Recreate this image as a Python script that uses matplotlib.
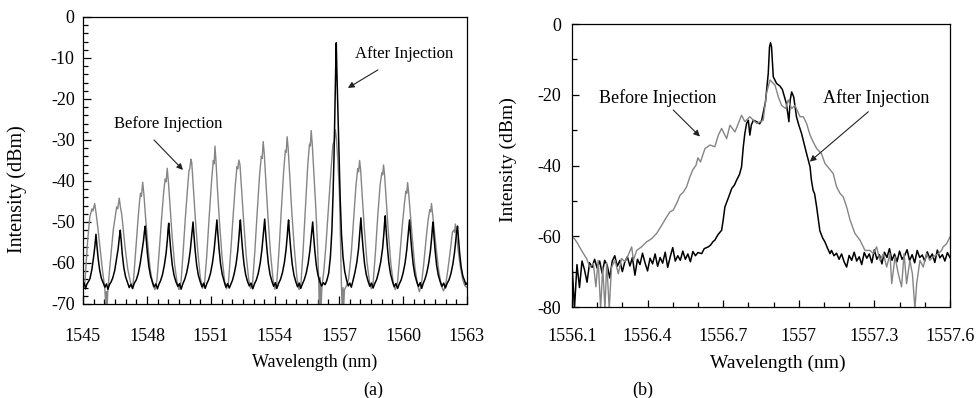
import numpy as np
import matplotlib.pyplot as plt
from matplotlib.ticker import MultipleLocator, FuncFormatter

plt.rcParams['font.family'] = ['Liberation Serif', 'DejaVu Serif']
plt.rcParams['axes.unicode_minus'] = False

GRAY = '#858585'

# (a) wide span, wavelength (nm) / intensity (dBm)
before_a = [
    (1545.00, -64.8), (1545.08, -65.6), (1545.14, -61.0), (1545.22, -54.5), (1545.32, -48.8),
    (1545.42, -46.8), (1545.47, -47.3), (1545.55, -45.5), (1545.62, -48.0), (1545.70, -51.5),
    (1545.80, -56.3), (1545.92, -62.0), (1546.02, -66.0), (1546.07, -70.5), (1546.10, -67.0),
    (1546.13, -70.5), (1546.17, -66.5),
    (1546.25, -61.5), (1546.42, -52.0), (1546.52, -48.5), (1546.58, -46.3), (1546.63, -46.8),
    (1546.70, -44.2), (1546.76, -46.5), (1546.82, -48.2), (1546.97, -56.0), (1547.10, -61.5),
    (1547.22, -64.5), (1547.32, -66.3),
    (1547.38, -63.5), (1547.48, -56.5), (1547.58, -49.5), (1547.66, -44.5), (1547.70, -43.0),
    (1547.74, -43.8), (1547.80, -40.3), (1547.86, -43.5), (1547.93, -48.5), (1548.03, -55.0),
    (1548.15, -61.5), (1548.28, -65.5), (1548.38, -66.5),
    (1548.47, -64.0), (1548.57, -57.5), (1548.68, -49.5), (1548.78, -43.0), (1548.85, -39.5),
    (1548.90, -40.2), (1548.95, -36.9), (1549.01, -40.5), (1549.08, -46.0), (1549.18, -53.5),
    (1549.30, -60.5), (1549.42, -65.0), (1549.50, -66.5),
    (1549.60, -64.5), (1549.70, -57.0), (1549.80, -49.0), (1549.90, -42.0), (1549.97, -37.5),
    (1550.01, -37.0), (1550.06, -34.7), (1550.10, -35.5), (1550.16, -40.5), (1550.26, -48.5),
    (1550.38, -57.0), (1550.50, -63.5), (1550.60, -66.2),
    (1550.70, -65.0), (1550.80, -58.5), (1550.92, -48.5), (1551.03, -40.0), (1551.11, -35.0),
    (1551.15, -35.8), (1551.19, -31.5), (1551.24, -35.5), (1551.30, -41.5), (1551.40, -50.0),
    (1551.52, -58.5), (1551.64, -64.5), (1551.73, -66.3),
    (1551.82, -64.8), (1551.93, -57.0), (1552.04, -48.5), (1552.15, -40.5), (1552.22, -36.5),
    (1552.26, -37.0), (1552.31, -34.9), (1552.36, -36.0), (1552.43, -41.5), (1552.53, -49.5),
    (1552.65, -58.0), (1552.77, -64.0), (1552.86, -66.2),
    (1552.95, -65.0), (1553.06, -57.0), (1553.17, -47.5), (1553.28, -38.5), (1553.36, -34.0),
    (1553.40, -34.5), (1553.45, -30.4), (1553.50, -33.5), (1553.57, -39.5), (1553.67, -48.5),
    (1553.79, -57.5), (1553.91, -64.0), (1554.00, -66.4),
    (1554.08, -65.2), (1554.19, -57.0), (1554.30, -47.0), (1554.41, -37.5), (1554.49, -32.5),
    (1554.53, -33.0), (1554.57, -29.2), (1554.62, -32.0), (1554.69, -38.5), (1554.79, -47.5),
    (1554.91, -56.5), (1555.03, -63.5), (1555.13, -66.5),
    (1555.22, -65.0), (1555.32, -57.0), (1555.43, -46.5), (1555.54, -36.0), (1555.62, -31.0),
    (1555.66, -31.5), (1555.70, -27.7), (1555.75, -31.0), (1555.82, -37.5), (1555.92, -47.0),
    (1556.00, -56.0), (1556.05, -64.0), (1556.08, -71.0), (1556.12, -63.5), (1556.16, -71.0),
    (1556.20, -66.0), (1556.30, -61.5), (1556.40, -55.0), (1556.50, -47.0), (1556.58, -41.0),
    (1556.66, -35.0), (1556.72, -31.0), (1556.78, -30.5), (1556.83, -27.5), (1556.88, -29.5),
    (1556.95, -35.0), (1557.03, -44.0), (1557.08, -56.0), (1557.12, -66.0), (1557.15, -71.0),
    (1557.19, -66.0), (1557.22, -71.0), (1557.26, -66.5), (1557.36, -65.5),
    (1557.45, -64.0), (1557.58, -57.5), (1557.70, -48.5), (1557.80, -41.0), (1557.88, -37.0),
    (1557.92, -37.8), (1557.97, -35.0), (1558.02, -37.5), (1558.09, -43.5), (1558.19, -51.5),
    (1558.31, -59.5), (1558.43, -64.5), (1558.52, -66.3),
    (1558.60, -65.0), (1558.71, -57.5), (1558.82, -48.5), (1558.93, -41.0), (1559.01, -38.0),
    (1559.05, -38.5), (1559.09, -36.1), (1559.14, -38.5), (1559.21, -44.0), (1559.31, -52.0),
    (1559.43, -60.0), (1559.55, -65.0), (1559.64, -66.5),
    (1559.74, -65.0), (1559.85, -58.5), (1559.96, -51.5), (1560.07, -45.5), (1560.14, -42.5),
    (1560.18, -43.0), (1560.22, -40.4), (1560.27, -43.0), (1560.34, -47.5), (1560.44, -54.0),
    (1560.56, -61.0), (1560.68, -65.2), (1560.77, -67.0),
    (1560.86, -65.5), (1560.97, -60.5), (1561.08, -54.5), (1561.18, -49.5), (1561.26, -47.0),
    (1561.30, -47.5), (1561.34, -45.5), (1561.39, -48.0), (1561.46, -51.5), (1561.56, -56.5),
    (1561.68, -62.0), (1561.80, -65.5), (1561.90, -66.8),
    (1562.00, -65.5), (1562.11, -61.5), (1562.22, -57.0), (1562.32, -52.5), (1562.38, -52.0),
    (1562.42, -52.5), (1562.46, -50.5), (1562.51, -53.0), (1562.58, -56.5), (1562.68, -60.5),
    (1562.80, -64.0), (1562.90, -65.5), (1563.00, -66.0),
]

after_a = [
    (1545.00, -65.8), (1545.06, -64.9), (1545.12, -66.3), (1545.18, -65.2), (1545.25, -64.6),
    (1545.33, -63.8), (1545.42, -61.5), (1545.50, -58.5), (1545.56, -55.8), (1545.61, -53.0),
    (1545.65, -55.5), (1545.71, -58.8), (1545.78, -61.6), (1545.86, -63.7), (1545.95, -64.9),
    (1546.03, -65.9), (1546.10, -65.1), (1546.17, -66.4),
    (1546.24, -65.3), (1546.32, -64.6), (1546.40, -63.6), (1546.49, -61.8), (1546.57, -59.2),
    (1546.65, -56.5), (1546.71, -53.6), (1546.75, -52.0), (1546.79, -54.6), (1546.85, -58.2),
    (1546.92, -61.3), (1547.00, -63.4), (1547.09, -64.8), (1547.17, -66.0), (1547.25, -65.2),
    (1547.33, -66.2),
    (1547.40, -65.0), (1547.50, -64.1), (1547.59, -62.6), (1547.68, -60.2), (1547.76, -57.3),
    (1547.84, -54.5), (1547.88, -52.4), (1547.92, -51.0), (1547.96, -53.8), (1548.02, -57.6),
    (1548.09, -60.9), (1548.17, -63.2), (1548.26, -64.7), (1548.34, -65.8), (1548.42, -65.1),
    (1548.49, -66.3),
    (1548.56, -65.2), (1548.64, -64.3), (1548.73, -62.8), (1548.82, -60.4), (1548.90, -57.5),
    (1548.96, -54.2), (1548.99, -51.8), (1549.02, -50.3), (1549.06, -53.3), (1549.12, -57.1),
    (1549.19, -60.6), (1549.27, -63.0), (1549.36, -64.6), (1549.45, -65.7), (1549.53, -65.0),
    (1549.60, -66.4),
    (1549.68, -65.1), (1549.77, -64.0), (1549.86, -62.4), (1549.95, -60.0), (1550.03, -57.0),
    (1550.09, -53.8), (1550.13, -51.5), (1550.16, -50.0), (1550.20, -53.0), (1550.26, -56.9),
    (1550.33, -60.5), (1550.41, -63.0), (1550.50, -64.6), (1550.58, -65.8), (1550.66, -64.9),
    (1550.73, -66.2),
    (1550.81, -65.0), (1550.89, -64.1), (1550.98, -62.5), (1551.07, -60.0), (1551.15, -56.8),
    (1551.21, -53.4), (1551.25, -51.0), (1551.28, -49.5), (1551.32, -52.6), (1551.38, -56.5),
    (1551.45, -60.2), (1551.53, -62.8), (1551.62, -64.5), (1551.70, -65.9), (1551.78, -65.0),
    (1551.86, -66.1),
    (1551.93, -65.2), (1552.01, -64.2), (1552.09, -62.6), (1552.18, -60.2), (1552.26, -56.9),
    (1552.32, -53.3), (1552.35, -51.0), (1552.38, -49.5), (1552.42, -52.7), (1552.48, -56.6),
    (1552.55, -60.3), (1552.63, -62.9), (1552.72, -64.6), (1552.80, -65.6), (1552.88, -64.9),
    (1552.96, -66.3),
    (1553.04, -65.1), (1553.13, -64.1), (1553.22, -62.5), (1553.31, -60.0), (1553.39, -56.7),
    (1553.45, -53.2), (1553.49, -50.9), (1553.52, -49.3), (1553.56, -52.5), (1553.62, -56.4),
    (1553.69, -60.1), (1553.77, -62.8), (1553.86, -64.5), (1553.94, -65.7), (1554.02, -64.8),
    (1554.09, -66.2),
    (1554.17, -65.0), (1554.26, -64.0), (1554.35, -62.4), (1554.44, -60.0), (1554.52, -56.8),
    (1554.58, -53.3), (1554.61, -51.0), (1554.64, -49.5), (1554.68, -52.7), (1554.74, -56.6),
    (1554.81, -60.3), (1554.89, -62.9), (1554.98, -64.6), (1555.06, -65.8), (1555.14, -64.9),
    (1555.21, -66.2),
    (1555.29, -65.1), (1555.38, -64.0), (1555.47, -62.4), (1555.56, -60.0), (1555.64, -56.9),
    (1555.70, -53.6), (1555.74, -51.4), (1555.77, -50.0), (1555.81, -53.1), (1555.87, -57.0),
    (1555.94, -60.6), (1556.02, -63.0), (1556.11, -64.6), (1556.19, -65.6), (1556.27, -64.8),
    (1556.35, -65.3),
    (1556.43, -64.3), (1556.52, -62.5), (1556.60, -58.5), (1556.67, -52.0), (1556.72, -44.0),
    (1556.77, -34.0), (1556.81, -22.5), (1556.85, -12.0), (1556.875, -6.3), (1556.90, -12.5),
    (1556.93, -18.6), (1556.97, -27.0), (1557.01, -35.5), (1557.06, -44.5), (1557.12, -53.0),
    (1557.19, -58.5), (1557.27, -62.0), (1557.36, -64.2), (1557.44, -65.6), (1557.51, -64.9),
    (1557.58, -65.9), (1557.66, -64.3), (1557.75, -62.3), (1557.84, -59.8), (1557.92, -56.5),
    (1557.97, -53.0), (1558.00, -50.6), (1558.03, -49.0), (1558.07, -52.3), (1558.13, -56.3),
    (1558.20, -60.1), (1558.28, -62.8), (1558.37, -64.5), (1558.45, -65.7), (1558.53, -64.9),
    (1558.60, -66.1),
    (1558.68, -65.0), (1558.77, -64.0), (1558.86, -62.2), (1558.96, -59.7), (1559.05, -56.3),
    (1559.11, -52.6), (1559.14, -50.2), (1559.17, -48.5), (1559.21, -51.9), (1559.27, -56.1),
    (1559.34, -60.0), (1559.42, -62.7), (1559.51, -64.5), (1559.59, -65.8), (1559.67, -65.0),
    (1559.75, -66.2),
    (1559.83, -65.1), (1559.92, -64.1), (1560.01, -62.4), (1560.10, -60.0), (1560.18, -56.8),
    (1560.24, -53.3), (1560.28, -51.0), (1560.31, -49.5), (1560.35, -52.7), (1560.41, -56.6),
    (1560.48, -60.3), (1560.56, -62.9), (1560.65, -64.6), (1560.73, -65.7), (1560.81, -64.8),
    (1560.88, -66.2),
    (1560.95, -65.0), (1561.03, -64.0), (1561.12, -62.4), (1561.21, -60.0), (1561.29, -57.0),
    (1561.35, -53.7), (1561.38, -51.5), (1561.41, -50.0), (1561.45, -53.1), (1561.51, -57.0),
    (1561.58, -60.6), (1561.66, -63.0), (1561.75, -64.6), (1561.83, -65.7), (1561.91, -64.9),
    (1561.99, -66.1),
    (1562.07, -65.0), (1562.16, -64.1), (1562.25, -62.6), (1562.34, -60.3), (1562.42, -57.4),
    (1562.48, -54.2), (1562.52, -52.3), (1562.56, -51.0), (1562.60, -53.8), (1562.66, -57.6),
    (1562.73, -61.0), (1562.81, -63.2), (1562.89, -64.3), (1562.95, -65.3), (1563.00, -64.9),
]

# (b) close-up of the injected mode
before_b = [
    (1556.099, -59.7), (1556.119, -61.6), (1556.138, -64.0), (1556.158, -66.3), (1556.171, -68.7),
    (1556.185, -67.7), (1556.195, -74.3), (1556.204, -66.8), (1556.214, -80.5), (1556.222, -68.7),
    (1556.231, -80.5), (1556.238, -67.5), (1556.248, -80.5), (1556.257, -68.7), (1556.271, -66.8),
    (1556.284, -70.6), (1556.297, -66.3), (1556.310, -67.2), (1556.323, -65.4), (1556.337, -63.0),
    (1556.344, -66.8), (1556.357, -64.0), (1556.376, -63.0), (1556.396, -61.6), (1556.416, -60.7),
    (1556.436, -59.2), (1556.456, -56.9), (1556.476, -54.5), (1556.489, -53.1), (1556.502, -52.6),
    (1556.518, -50.3), (1556.529, -48.4), (1556.542, -47.5), (1556.555, -46.0), (1556.568, -43.2),
    (1556.581, -41.0), (1556.592, -40.0), (1556.600, -37.8), (1556.610, -39.0), (1556.628, -35.2),
    (1556.648, -34.2), (1556.667, -34.7), (1556.681, -31.4), (1556.694, -29.5), (1556.714, -32.4),
    (1556.727, -28.6), (1556.747, -30.5), (1556.773, -25.8), (1556.786, -27.6), (1556.806, -26.2),
    (1556.833, -28.1), (1556.859, -27.2), (1556.872, -19.6), (1556.886, -15.8), (1556.906, -17.3),
    (1556.919, -20.6), (1556.932, -23.0), (1556.948, -23.9), (1556.958, -21.5), (1556.972, -23.9),
    (1556.985, -23.0), (1557.005, -26.2), (1557.018, -26.2), (1557.031, -28.1), (1557.045, -31.4),
    (1557.057, -33.3), (1557.071, -35.2), (1557.090, -36.6), (1557.104, -39.4), (1557.120, -40.8),
    (1557.137, -42.3), (1557.150, -46.0), (1557.164, -47.9), (1557.177, -48.9), (1557.190, -51.7),
    (1557.204, -55.5), (1557.223, -59.2), (1557.243, -61.1), (1557.263, -64.0), (1557.283, -64.0),
    (1557.296, -64.9), (1557.309, -63.0), (1557.322, -66.8), (1557.336, -64.9), (1557.349, -68.7),
    (1557.362, -64.9), (1557.369, -73.4), (1557.382, -65.8), (1557.395, -70.6), (1557.408, -74.3),
    (1557.418, -64.9), (1557.428, -73.4), (1557.441, -66.8), (1557.451, -70.6), (1557.461, -80.5),
    (1557.468, -73.4), (1557.481, -66.8), (1557.494, -68.7), (1557.507, -64.9), (1557.520, -66.8),
    (1557.534, -65.8), (1557.554, -64.9), (1557.567, -64.0), (1557.573, -63.0), (1557.587, -62.1),
    (1557.600, -60.2),
]

after_b = [
    (1556.10, -67.5), (1556.11, -80.5), (1556.12, -68.0), (1556.13, -74.5), (1556.14, -67.0),
    (1556.15, -69.5), (1556.16, -73.0), (1556.17, -67.5), (1556.18, -68.8), (1556.19, -66.5),
    (1556.20, -69.0), (1556.21, -67.0), (1556.22, -70.5), (1556.23, -66.8), (1556.24, -68.2),
    (1556.25, -71.8), (1556.26, -67.0), (1556.27, -65.5), (1556.28, -68.5), (1556.29, -66.8),
    (1556.30, -70.0), (1556.31, -67.2), (1556.32, -65.8), (1556.33, -68.4), (1556.34, -66.0),
    (1556.35, -71.0), (1556.36, -66.5), (1556.37, -68.0), (1556.38, -64.8), (1556.39, -67.5),
    (1556.40, -69.8), (1556.41, -66.2), (1556.42, -67.8), (1556.43, -65.0), (1556.44, -68.5),
    (1556.45, -66.0), (1556.46, -67.6), (1556.47, -64.5), (1556.48, -68.8), (1556.49, -65.8),
    (1556.50, -63.2), (1556.51, -67.0), (1556.52, -65.5), (1556.53, -66.8), (1556.54, -64.2),
    (1556.55, -66.5), (1556.56, -65.0), (1556.57, -67.2), (1556.58, -64.3), (1556.59, -65.5),
    (1556.60, -64.6), (1556.615, -64.9), (1556.625, -63.5), (1556.641, -63.0), (1556.650, -62.5),
    (1556.660, -61.5), (1556.667, -61.1), (1556.680, -59.5), (1556.694, -58.3), (1556.700, -55.5),
    (1556.707, -51.7), (1556.715, -50.2), (1556.722, -48.9), (1556.734, -46.5), (1556.745, -45.5),
    (1556.753, -44.2), (1556.765, -42.5), (1556.773, -40.4), (1556.780, -34.7), (1556.786, -31.0),
    (1556.793, -28.1), (1556.800, -27.2), (1556.806, -31.4), (1556.812, -28.5), (1556.820, -27.2),
    (1556.833, -27.6), (1556.845, -28.2), (1556.853, -27.2), (1556.868, -22.0), (1556.879, -14.0),
    (1556.884, -6.5), (1556.888, -5.3), (1556.892, -6.4), (1556.899, -14.9), (1556.912, -16.8),
    (1556.925, -17.5), (1556.935, -18.5), (1556.945, -21.0), (1556.951, -22.5), (1556.958, -26.0),
    (1556.961, -27.6), (1556.966, -21.5), (1556.972, -19.2), (1556.980, -20.6), (1556.991, -26.2),
    (1557.000, -28.5), (1557.011, -30.9), (1557.020, -33.5), (1557.031, -36.6), (1557.045, -40.4),
    (1557.050, -44.0), (1557.057, -47.0), (1557.063, -48.0), (1557.071, -51.7), (1557.084, -58.5),
    (1557.095, -60.5), (1557.104, -61.6), (1557.115, -63.5), (1557.124, -64.9),
    (1557.13, -64.0), (1557.14, -65.5), (1557.15, -64.8), (1557.16, -66.5), (1557.17, -65.0),
    (1557.18, -67.2), (1557.19, -68.7), (1557.20, -65.4), (1557.21, -66.8), (1557.22, -64.5),
    (1557.23, -67.0), (1557.24, -65.8), (1557.25, -68.0), (1557.26, -64.6), (1557.27, -66.2),
    (1557.28, -65.0), (1557.29, -67.5), (1557.30, -63.8), (1557.31, -66.5), (1557.32, -65.2),
    (1557.33, -67.8), (1557.34, -64.5), (1557.35, -66.0), (1557.36, -63.5), (1557.37, -66.8),
    (1557.38, -65.0), (1557.39, -67.2), (1557.40, -64.2), (1557.41, -66.5), (1557.42, -65.5),
    (1557.43, -63.8), (1557.44, -66.9), (1557.45, -65.2), (1557.46, -67.5), (1557.47, -64.0),
    (1557.48, -66.0), (1557.49, -65.3), (1557.50, -67.0), (1557.51, -64.4), (1557.52, -66.2),
    (1557.53, -65.0), (1557.54, -67.4), (1557.55, -63.9), (1557.56, -66.1), (1557.57, -65.2),
    (1557.58, -67.0), (1557.59, -64.6), (1557.60, -66.0),
]

xticks_a = [1545, 1548, 1551, 1554, 1557, 1560, 1563]
yticks_a = [0, -10, -20, -30, -40, -50, -60, -70]
xticks_b = [1556.1, 1556.4, 1556.7, 1557.0, 1557.3, 1557.6]
yticks_b = [0, -20, -40, -60, -80]


def style_axes(ax):
    for s in ax.spines.values():
        s.set_linewidth(0.9)
    ax.tick_params(which='both', direction='in', top=False, right=False, width=0.9)


fig = plt.figure(figsize=(9.76, 3.98), dpi=100)

# ---- (a)
ax1 = fig.add_axes([0.085, 0.2362, 0.3934, 0.7211])
wl, p = np.array(before_a).T
ax1.plot(wl, p, color=GRAY, lw=1.0)
wl, p = np.array(after_a).T
ax1.plot(wl, p, color='black', lw=1.1)
ax1.set_xlim(1545, 1563)
ax1.set_ylim(-70, 0)
ax1.set_xticks(xticks_a)
ax1.set_yticks(yticks_a)
ax1.xaxis.set_minor_locator(MultipleLocator(0.5))
ax1.yaxis.set_minor_locator(MultipleLocator(2))
style_axes(ax1)
ax1.tick_params(which='major', length=6)
ax1.tick_params(which='minor', length=3.5)
ax1.tick_params(axis='x', pad=17, labelsize=13)
ax1.tick_params(axis='y', pad=6, labelsize=13)
ax1.set_xlabel('Wavelength (nm)', fontsize=13)
ax1.xaxis.set_label_coords(0.604, -0.205)
ax1.xaxis.label.set_va('center')
ax1.set_ylabel('Intensity (dBm)', fontsize=14.5)
ax1.yaxis.set_label_coords(-0.172, 0.40)
ax1.yaxis.label.set_va('center')

arrow = dict(arrowstyle='-|>', color='#222222', lw=0.8, mutation_scale=9, shrinkA=0, shrinkB=0)
ax1.annotate('', xy=(1549.69, -37.3), xytext=(1548.33, -30.0), arrowprops=arrow)
ax1.text(1549.01, -26.1, 'Before Injection', fontsize=12, ha='center', va='center')
ax1.annotate('', xy=(1557.42, -17.3), xytext=(1558.83, -12.9), arrowprops=arrow)
ax1.text(1560.05, -9.0, 'After Injection', fontsize=12, ha='center', va='center')

# ---- (b)
ax2 = fig.add_axes([0.586, 0.2286, 0.3873, 0.711])
wl, p = np.array(after_b).T
ax2.plot(wl, p, color='black', lw=1.1)
wl, p = np.array(before_b).T
ax2.plot(wl, p, color=GRAY, lw=1.0)
ax2.set_xlim(1556.1, 1557.6)
ax2.set_ylim(-80, 0)
ax2.set_xticks(xticks_b)
ax2.set_yticks(yticks_b)
ax2.xaxis.set_major_formatter(FuncFormatter(lambda v, _: '%g' % v))
ax2.xaxis.set_minor_locator(MultipleLocator(0.1))
ax2.yaxis.set_minor_locator(MultipleLocator(10))
style_axes(ax2)
ax2.tick_params(which='major', length=5)
ax2.tick_params(which='minor', length=3.5)
ax2.tick_params(axis='x', pad=15, labelsize=13)
ax2.tick_params(axis='y', pad=8, labelsize=13)
ax2.set_xlabel('Wavelength (nm)', fontsize=14)
ax2.xaxis.set_label_coords(0.545, -0.198)
ax2.xaxis.label.set_va('center')
ax2.set_ylabel('Intensity (dBm)', fontsize=14)
ax2.yaxis.set_label_coords(-0.169, 0.52)
ax2.yaxis.label.set_va('center')

ax2.annotate('', xy=(1556.608, -31.8), xytext=(1556.502, -24.3), arrowprops=arrow)
ax2.text(1556.439, -21.0, 'Before Injection', fontsize=13, ha='center', va='center')
ax2.annotate('', xy=(1557.044, -38.9), xytext=(1557.276, -24.8), arrowprops=arrow)
ax2.text(1557.309, -21.0, 'After Injection', fontsize=13, ha='center', va='center')

fig.text(0.382, 0.02, '(a)', fontsize=13, ha='center', va='center')
fig.text(0.659, 0.02, '(b)', fontsize=13, ha='center', va='center')

fig.savefig('out.png', dpi=100)
